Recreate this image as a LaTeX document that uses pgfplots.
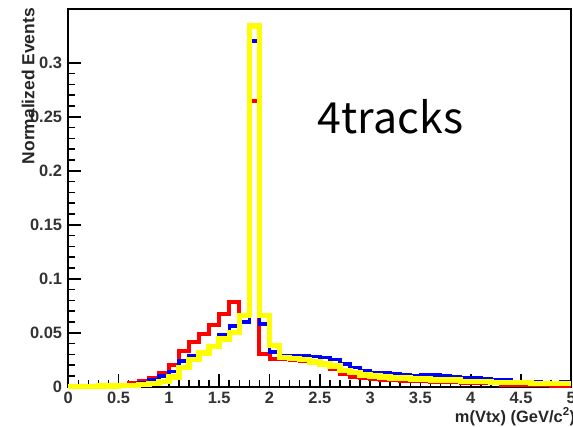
\documentclass[border=0pt]{standalone}
\usepackage{pgfplots}
\usepackage{pgfplotstable}
\pgfplotsset{compat=1.18}
\usepackage{fontspec}
\setmainfont{Liberation Sans}
\newfontfamily\cjk{Noto Sans CJK JP}
\definecolor{rred}{RGB}{255,0,0}
\definecolor{rblue}{RGB}{0,0,255}
\definecolor{ryel}{RGB}{255,255,0}

\pgfplotstableread{
x    r      b      y
0.0  0.0005 0.0003 0.0003
0.1  0.0005 0.0003 0.0003
0.2  0.0008 0.0005 0.0003
0.3  0.0010 0.0005 0.0005
0.4  0.0012 0.0008 0.0005
0.5  0.0020 0.0010 0.0010
0.6  0.0030 0.0020 0.0010
0.7  0.0050 0.0040 0.0020
0.8  0.0080 0.0060 0.0030
0.9  0.0130 0.0100 0.0050
1.0  0.0200 0.0140 0.0090
1.1  0.0330 0.0240 0.0180
1.2  0.0410 0.0290 0.0250
1.3  0.0490 0.0300 0.0310
1.4  0.0570 0.0380 0.0370
1.5  0.0670 0.0480 0.0440
1.6  0.0780 0.0560 0.0500
1.7  0.0660 0.0600 0.0660
1.8  0.2650 0.3200 0.3340
1.9  0.0300 0.0580 0.0660
2.0  0.0260 0.0320 0.0380
2.1  0.0260 0.0290 0.0270
2.2  0.0250 0.0290 0.0260
2.3  0.0240 0.0290 0.0250
2.4  0.0220 0.0280 0.0230
2.5  0.0200 0.0270 0.0210
2.6  0.0160 0.0250 0.0190
2.7  0.0120 0.0210 0.0150
2.8  0.0090 0.0180 0.0130
2.9  0.0080 0.0150 0.0110
3.0  0.0070 0.0130 0.0100
3.1  0.0060 0.0130 0.0090
3.2  0.0060 0.0120 0.0080
3.3  0.0050 0.0110 0.0080
3.4  0.0050 0.0100 0.0070
3.5  0.0050 0.0110 0.0070
3.6  0.0040 0.0110 0.0060
3.7  0.0040 0.0100 0.0060
3.8  0.0040 0.0090 0.0060
3.9  0.0030 0.0080 0.0050
4.0  0.0030 0.0080 0.0050
4.1  0.0030 0.0070 0.0050
4.2  0.0030 0.0060 0.0040
4.3  0.0020 0.0060 0.0040
4.4  0.0020 0.0050 0.0040
4.5  0.0020 0.0050 0.0040
4.6  0.0020 0.0050 0.0030
4.7  0.0020 0.0040 0.0030
4.8  0.0010 0.0040 0.0030
4.9  0.0010 0.0050 0.0030
5.0  0.0010 0.0050 0.0030
}\histdata

\begin{document}
\begin{tikzpicture}
\path[use as bounding box] (0,0) rectangle (573bp,427bp);
\begin{axis}[
  at={(68.3bp,40.3bp)}, anchor=south west,
  scale only axis, width=503bp, height=377.2bp,
  xmin=0, xmax=5, ymin=0, ymax=0.3493,
  clip=false,
  axis line style={black, line width=2bp},
  xtick={0,0.5,...,5}, ytick={0,0.05,...,0.3},
  minor x tick num=4, minor y tick num=4,
  xtick pos=left, ytick pos=left,
  tick align=inside,
  major tick length=13bp, minor tick length=7bp,
  every tick/.style={black, line width=1.6bp},
  /pgf/number format/assume math mode=true,
  tick label style={font=\fontsize{16.5}{16.5}\selectfont\bfseries, text=black!80},
  yticklabel style={anchor=east, inner sep=0pt, xshift=-6bp},
  xticklabel style={anchor=north, inner sep=0pt, yshift=-5bp},
  yticklabel={\pgfmathparse{\tick}\pgfmathprintnumber[fixed,precision=2]{\pgfmathresult}},
  xlabel={m(Vtx) (GeV/c\textsuperscript{2})},
  ylabel={Normalized Events},
  xlabel style={at={(axis description cs:1.008,-0.0795)}, anchor=east, inner sep=0pt,
     font=\fontsize{16.5}{16.5}\selectfont\bfseries, text=black!85},
  ylabel style={at={(axis description cs:-0.080,1.004)}, anchor=east, inner sep=0pt, rotate=0,
     font=\fontsize{17.5}{17.5}\selectfont\bfseries, text=black!85},
]
\addplot[const plot, rred, line width=4bp] table[x=x,y=r]{\histdata};
\addplot[const plot, rblue, line width=3.5bp] table[x=x,y=b]{\histdata};
\addplot[const plot, ryel, line width=5.5bp] table[x=x,y=y]{\histdata};
\node[anchor=base west, inner sep=0pt, font=\cjk\fontsize{43}{43}\selectfont] at (axis description cs:0.496,0.670) {4tracks};
\end{axis}
\end{tikzpicture}
\end{document}
